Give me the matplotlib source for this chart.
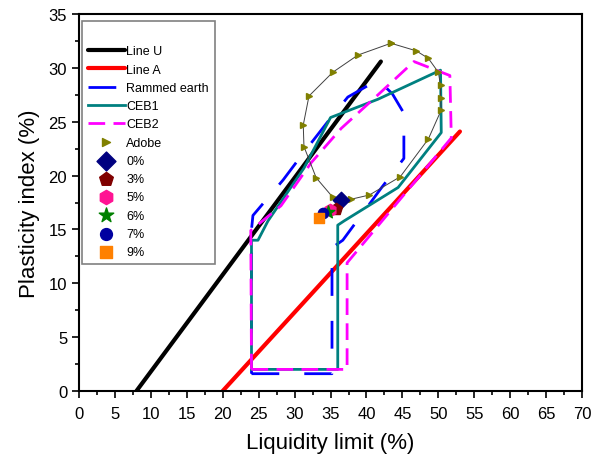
import matplotlib.pyplot as plt

plt.rcParams['font.family'] = ['Liberation Sans', 'DejaVu Sans']

# Lineas U y A
u_ll = [8, 42]
u_pi = [0, 30.6]
a_ll = [20, 53]
a_pi = [0, 24.1]

# Envolventes (limite liquido, indice de plasticidad)
rammed_ll = [24.0, 35.2, 35.2, 36.7, 42.0, 45.2, 45.2, 43.6, 41.6, 37.4, 34.6, 31.1, 28.4, 24.2, 24.0, 24.0]
rammed_pi = [1.6, 1.6, 13.3, 14.0, 18.8, 21.6, 25.8, 27.6, 28.9, 27.3, 25.0, 22.0, 19.6, 16.3, 15.0, 1.6]

ceb1_ll = [24.0, 36.0, 36.0, 36.9, 44.4, 50.4, 50.3, 41.6, 35.0, 31.3, 26.3, 24.9, 24.0, 24.0]
ceb1_pi = [2.0, 2.0, 15.4, 15.8, 18.9, 24.0, 29.8, 27.1, 25.4, 20.7, 15.8, 14.0, 14.0, 2.0]

ceb2_ll = [24.0, 37.3, 37.3, 51.8, 51.6, 46.6, 41.1, 36.5, 32.3, 28.1, 23.9, 24.0]
ceb2_pi = [2.0, 2.0, 11.9, 23.5, 29.3, 30.6, 27.2, 24.4, 21.2, 17.2, 14.9, 2.0]

adobe_ll = [43.4, 46.9, 48.6, 50.0, 50.3, 50.3, 50.4, 48.6, 44.7, 40.4, 37.8, 35.3, 33.0, 31.3, 31.2, 32.0, 35.3, 38.8, 43.4]
adobe_pi = [32.3, 31.6, 30.9, 29.6, 28.4, 27.2, 26.1, 23.4, 19.9, 18.2, 17.8, 18.0, 19.8, 22.7, 24.7, 27.4, 29.6, 31.2, 32.3]

# Muestras con cal
pct_labels = ['0%', '3%', '5%', '6%', '7%', '9%']
pct_ll = [36.5, 35.8, 34.9, 34.6, 33.9, 33.4]
pct_pi = [17.7, 16.9, 16.8, 16.6, 16.5, 16.1]
pct_colors = ['#000080', '#800000', '#ff1493', '#008000', '#0000a0', '#ff8000']
pct_markers = ['D', 'p', 'h', '*', 'o', 's']
pct_sizes = [70, 80, 80, 90, 55, 55]

fig = plt.figure(figsize=(5.94, 4.6), dpi=100)
ax = fig.add_axes([0.133, 0.148, 0.847, 0.819])

ax.plot(u_ll, u_pi, color='black', lw=3, label='Line U', solid_capstyle='round')
ax.plot(a_ll, a_pi, color='red', lw=3, label='Line A', solid_capstyle='round')
ax.plot(rammed_ll, rammed_pi, color='blue', lw=2, ls=(0, (10, 9)), label='Rammed earth')
ax.plot(ceb1_ll, ceb1_pi, color='#008080', lw=2, label='CEB1')
ax.plot(ceb2_ll, ceb2_pi, color='magenta', lw=2, ls=(0, (6, 3)), label='CEB2')
ax.plot(adobe_ll, adobe_pi, color='#404040', lw=0.7, marker='>', ms=5,
        mfc='#808000', mec='#808000', label='_adobe')
ax.scatter([], [], marker='>', color='#808000', s=25, label='Adobe')

for x, y, c, m, s, lab in zip(pct_ll, pct_pi, pct_colors, pct_markers, pct_sizes, pct_labels):
    ax.scatter(x, y, color=c, marker=m, s=s, label=lab, zorder=5)

ax.set_xlim(0, 70)
ax.set_ylim(0, 35)
ax.set_xticks(range(0, 71, 5))
ax.set_yticks(range(0, 36, 5))
ax.set_xticks([x + 2.5 for x in range(0, 70, 5)], minor=True)
ax.set_yticks([y + 2.5 for y in range(0, 35, 5)], minor=True)
ax.tick_params(which='major', direction='out', length=5, width=1.2, labelsize=12)
ax.tick_params(which='minor', direction='out', length=3, width=1.2)
ax.tick_params(axis='x', pad=6)
for s in ax.spines.values():
    s.set_linewidth(1.5)

ax.set_xlabel('Liquidity limit (%)', fontsize=16, labelpad=8)
ax.set_ylabel('Plasticity index (%)', fontsize=16, labelpad=6)

leg = ax.legend(loc='upper left', bbox_to_anchor=(0.006, 0.982), fontsize=9,
                title=' ', title_fontsize=9, handlelength=2.9, handletextpad=0.15,
                labelspacing=0.5, borderaxespad=0, borderpad=0.5, markerscale=1.15,
                fancybox=False, edgecolor='gray', framealpha=1)
leg.get_frame().set_linewidth(1.2)

fig.savefig('out.png', dpi=100)
